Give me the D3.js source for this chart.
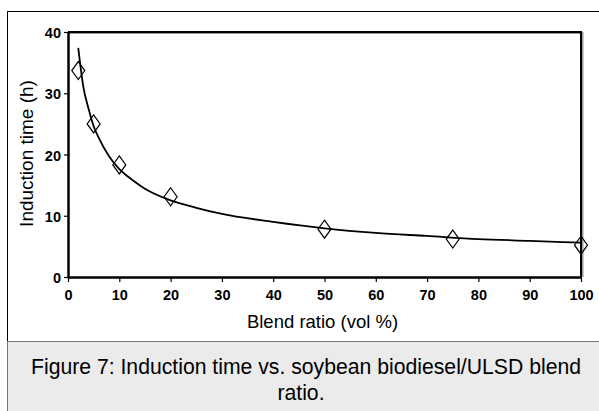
<!DOCTYPE html>
<html>
<head>
<meta charset="utf-8">
<script src="https://cdn.jsdelivr.net/npm/d3@7"></script>
<style>
  body { margin: 0; background: #fff; }
  text { font-family: "Liberation Sans", Arial, sans-serif; fill: #000; }
</style>
</head>
<body>
<svg id="chart" width="599" height="411"></svg>
<script>
// measured points (blend ratio vol %, induction time h)
var blendRatio = [2, 5, 10, 20, 50, 75, 100];
var inductionTime = [33.7, 25.0, 18.3, 13.1, 7.8, 6.2, 5.2];

// fitted trend line
var fitRatio = [2, 3, 4, 5, 6, 8, 10, 12, 15, 20, 25, 30, 40, 50, 60, 70, 80, 90, 100];
var fitTime  = [37.4, 31.0, 27.5, 24.6, 22.7, 19.7, 17.6, 16.2, 14.4, 12.5, 11.3, 10.3, 9.0, 7.95, 7.2, 6.7, 6.2, 5.9, 5.6];

var xTicks = [0, 10, 20, 30, 40, 50, 60, 70, 80, 90, 100];
var yTicks = [0, 10, 20, 30, 40];

var xTitle = "Blend ratio (vol %)";
var yTitle = "Induction time (h)";
var caption = ["Figure 7: Induction time vs. soybean biodiesel/ULSD blend", "ratio."];

var svg = d3.select("#chart");

// outer frame and caption box
svg.append("line").attr("x1", 7).attr("x2", 599).attr("y1", 11.5).attr("y2", 11.5)
   .attr("stroke", "#000").attr("stroke-width", 1);
svg.append("line").attr("x1", 7.5).attr("x2", 7.5).attr("y1", 11).attr("y2", 342)
   .attr("stroke", "#000").attr("stroke-width", 1);
svg.append("rect").attr("x", 7.5).attr("y", 341.5).attr("width", 600).attr("height", 80)
   .attr("fill", "#ebebeb").attr("stroke", "#777").attr("stroke-width", 1);

caption.forEach(function(line, i) {
    svg.append("text")
        .attr("x", i == 0 ? 306 : 301)
        .attr("y", 374 + i * 26)
        .attr("text-anchor", "middle")
        .style("font-size", "21.2px")
        .text(line);
});

var margin = {top: 32, left: 68};
var width = 581 - 68, height = 277 - 32;

var g = svg.append("g").attr("transform", "translate(" + margin.left + "," + margin.top + ")");

var x = d3.scaleLinear().domain([0, 100]).range([0, width]);
var y = d3.scaleLinear().domain([0, 40]).range([height, 0]);

// plot frame: top and right borders with a faint shadow
g.append("path")
    .attr("d", "M0," + 1 + "H" + (width + 1.5) + "V" + height)
    .attr("fill", "none").attr("stroke", "#999").attr("stroke-width", 2);
g.append("path")
    .attr("d", "M0,0H" + width + "V" + height)
    .attr("fill", "none").attr("stroke", "#000").attr("stroke-width", 2);

// axes
var xAxis = d3.axisBottom(x).tickValues(xTicks).tickSize(5).tickSizeOuter(0).tickPadding(8);
var yAxis = d3.axisLeft(y).tickValues(yTicks).tickSize(4).tickSizeOuter(0).tickPadding(3);

var gx = g.append("g").attr("transform", "translate(0," + height + ")").call(xAxis);
var gy = g.append("g").call(yAxis);

[gx, gy].forEach(function(a) {
    a.select(".domain").attr("stroke", "#000").attr("stroke-width", 2.5);
    a.selectAll(".tick line").attr("stroke", "#000").attr("stroke-width", 1.2);
    a.selectAll(".tick text")
        .style("font-family", "'Liberation Sans', Arial, sans-serif")
        .style("font-size", "14.5px")
        .style("font-weight", "bold")
        .attr("fill", "#000");
});
gy.selectAll(".tick text").attr("dy", "0.38em");

// axis titles
g.append("text")
    .attr("x", width / 2 - 2)
    .attr("y", 328 - margin.top)
    .attr("text-anchor", "middle")
    .style("font-size", "18.5px")
    .text(xTitle);

g.append("text")
    .attr("transform", "rotate(-90)")
    .attr("x", -height / 2 + 1)
    .attr("y", 33 - margin.left)
    .attr("text-anchor", "middle")
    .style("font-size", "19px")
    .text(yTitle);

// trend line
var fitData = fitRatio.map(function(r, i) { return {x: r, y: fitTime[i]}; });
var line = d3.line()
    .x(function(d) { return x(d.x); })
    .y(function(d) { return y(d.y); })
    .curve(d3.curveMonotoneX);

g.append("path")
    .datum(fitData)
    .attr("d", line)
    .attr("fill", "none")
    .attr("stroke", "#000")
    .attr("stroke-width", 1.8);

// diamond markers
var points = blendRatio.map(function(r, i) { return {x: r, y: inductionTime[i]}; });
var hw = 6.5, hh = 9;
g.selectAll(".marker")
    .data(points)
    .enter()
    .append("path")
    .attr("class", "marker")
    .attr("transform", function(d) { return "translate(" + x(d.x) + "," + y(d.y) + ")"; })
    .attr("d", "M0," + (-hh) + "L" + hw + ",0L0," + hh + "L" + (-hw) + ",0Z")
    .attr("fill", "none")
    .attr("stroke", "#000")
    .attr("stroke-width", 1.2);
</script>
</body>
</html>
